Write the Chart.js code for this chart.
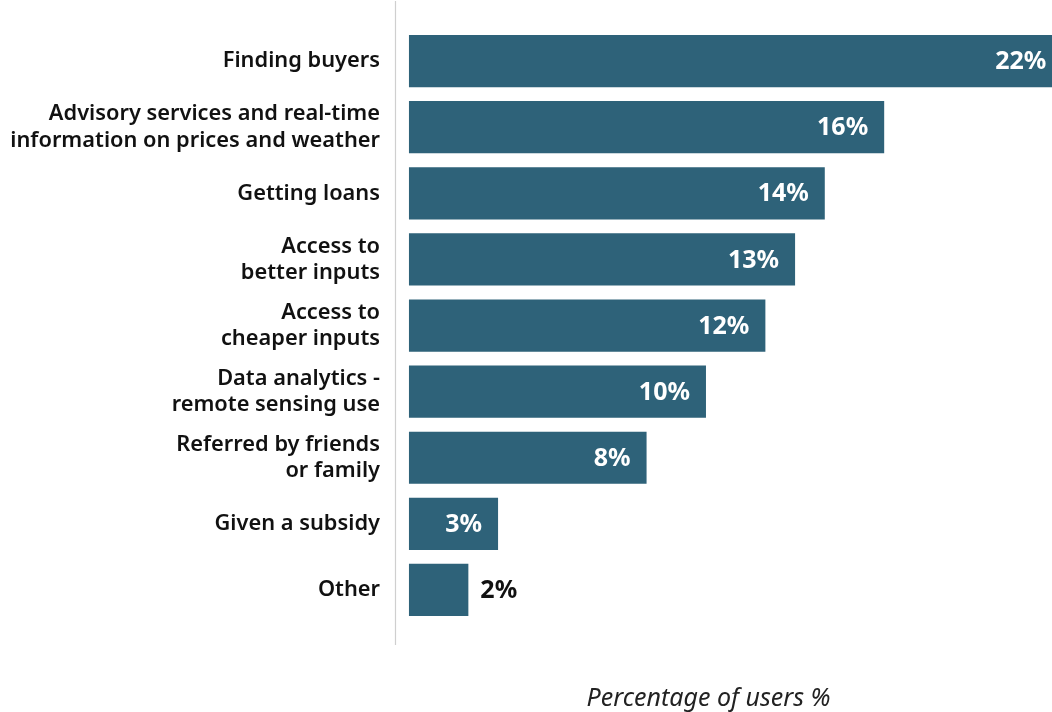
<!DOCTYPE html>
<html><head><meta charset="utf-8">
<script src="https://cdn.jsdelivr.net/npm/chart.js@4.4.0/dist/chart.umd.min.js"></script>
<style>html,body{margin:0;padding:0;background:#fff}#wrap{width:1052px;height:712px}</style>
</head><body><div id="wrap"><canvas id="c" width="1052" height="712"></canvas></div>
<script>
const categories = [
  "Finding buyers",
  ["Advisory services and real-time", "information on prices and weather"],
  "Getting loans",
  ["Access to", "better inputs"],
  ["Access to", "cheaper inputs"],
  ["Data analytics -", "remote sensing use"],
  ["Referred by friends", "or family"],
  "Given a subsidy",
  "Other"
];
const values = [22, 16, 14, 13, 12, 10, 8, 3, 2];
const valueLabels = ["22%", "16%", "14%", "13%", "12%", "10%", "8%", "3%", "2%"];
const axisTitle = "Percentage of users %";

const FONT = "'Noto Sans', sans-serif";

const extras = {
  id: 'extras',
  afterDatasetsDraw(chart) {
    const ctx = chart.ctx;
    const ca = chart.chartArea;
    const xs = chart.scales.x;
    const meta = chart.getDatasetMeta(0);
    ctx.save();
    ctx.strokeStyle = '#cfcfcf';
    ctx.lineWidth = 1.2;
    ctx.beginPath();
    ctx.moveTo(ca.left + 0.5, ca.top - 27);
    ctx.lineTo(ca.left + 0.5, ca.bottom + 22);
    ctx.stroke();
    ctx.font = "bold 25px " + FONT;
    ctx.textBaseline = 'middle';
    meta.data.forEach((bar, i) => {
      const end = xs.getPixelForValue(values[i]);
      if (values[i] >= 3) {
        ctx.fillStyle = '#ffffff';
        ctx.textAlign = 'right';
        ctx.fillText(valueLabels[i], end - 16, bar.y + 1);
      } else {
        ctx.fillStyle = '#111111';
        ctx.textAlign = 'left';
        ctx.fillText(valueLabels[i], end + 12, bar.y + 1);
      }
    });
    ctx.font = "italic 25px " + FONT;
    ctx.fillStyle = '#222222';
    ctx.textAlign = 'center';
    ctx.textBaseline = 'alphabetic';
    ctx.fillText(axisTitle, (ca.left + ca.right) / 2 - 15, ca.bottom + 83);
    ctx.restore();
  }
};

new Chart(document.getElementById('c'), {
  type: 'bar',
  data: {
    labels: categories,
    datasets: [{
      data: values,
      backgroundColor: '#2e6279',
      barPercentage: 0.79,
      categoryPercentage: 1.0
    }]
  },
  options: {
    indexAxis: 'y',
    responsive: false,
    animation: false,
    layout: { padding: { top: 26, bottom: 89, right: 0, left: 0 } },
    plugins: { legend: { display: false }, tooltip: { enabled: false } },
    scales: {
      x: {
        min: -0.47, max: 21.65,
        display: false,
        grid: { display: false }
      },
      y: {
        grid: { display: false, drawTicks: false },
        border: { display: false },
        afterFit(scale) { scale.width = 395; },
        ticks: {
          padding: 15,
          color: '#111111',
          font: { family: FONT, size: 21.8, weight: '600', lineHeight: 1.2 }
        }
      }
    }
  },
  plugins: [extras]
});
</script>
</body></html>
